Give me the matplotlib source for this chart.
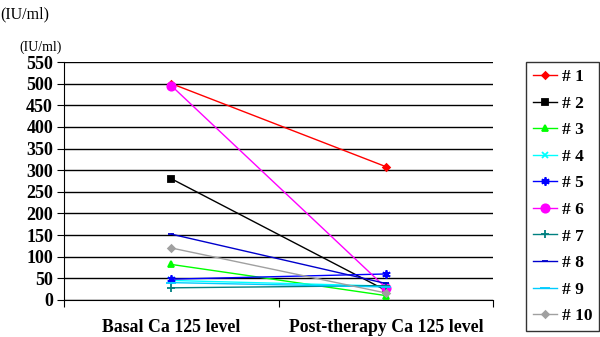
import matplotlib
matplotlib.use('Agg')
import matplotlib.pyplot as plt

stages = ['Basal Ca 125 level', 'Post-therapy Ca 125 level']
patients = ['# 1', '# 2', '# 3', '# 4', '# 5', '# 6', '# 7', '# 8', '# 9', '# 10']
basal = [500, 280, 82, 45, 48, 495, 28, 152, 40, 120]
post = [308, 22, 10, 32, 60, 28, 33, 38, 30, 16]

colors = ['#ff0000', '#000000', '#00ff00', '#00ffff', '#0000ff',
          '#ff00ff', '#008080', '#0000cc', '#00ccff', '#a0a0a0']
markers = ['D', 's', '^', 'x', (6, 2, 0), 'o', '+', '_', '_', 'D']
msizes = [3.5, 5, 5, 5, 6, 6, 6, 5, 7, 3.5]

plt.rcParams['font.family'] = 'Liberation Serif'

fig = plt.figure(figsize=(6, 3.37), dpi=100)
ax = fig.add_axes([0.107, 0.11, 0.715, 0.706])

xpos = [0.5, 1.5]
for i in range(len(patients)):
    ax.plot(xpos, [basal[i], post[i]], color=colors[i], marker=markers[i],
            markersize=msizes[i], lw=1, mew=1.3, label=patients[i])

ax.set_xlim(0, 2)
ax.set_ylim(0, 550)
ax.set_yticks(range(0, 551, 50))
ax.yaxis.grid(True, color='black', lw=1)
ax.set_axisbelow(True)
ax.set_xticks([0, 1, 2])
ax.set_xticklabels([])
ax.set_xticks(xpos, minor=True)
ax.set_xticklabels(stages, minor=True, fontsize=12.8, fontweight='bold')
ax.tick_params(axis='x', which='minor', length=0, pad=14)
ax.tick_params(axis='x', which='major', length=5, direction='out')
ax.tick_params(axis='y', length=5, direction='out', labelsize=13, pad=3)
for lab in ax.get_yticklabels():
    lab.set_fontweight('bold')
for side in ['top', 'right']:
    ax.spines[side].set_visible(False)

ax.text(-0.005, 1.045, '(IU/ml)', transform=ax.transAxes, ha='right',
        fontsize=10)
fig.text(0.0, 0.945, '(IU/ml)', ha='left', fontsize=11.5)

leg = ax.legend(loc='upper left', bbox_to_anchor=(1.077, 1.0), frameon=True,
                fancybox=False, edgecolor='black', prop={'weight': 'bold', 'size': 12.5},
                handlelength=1.35, handletextpad=0.3, labelspacing=0.6,
                borderpad=0.4, borderaxespad=0)
leg.get_frame().set_linewidth(1)

fig.savefig('out.png', dpi=100)
